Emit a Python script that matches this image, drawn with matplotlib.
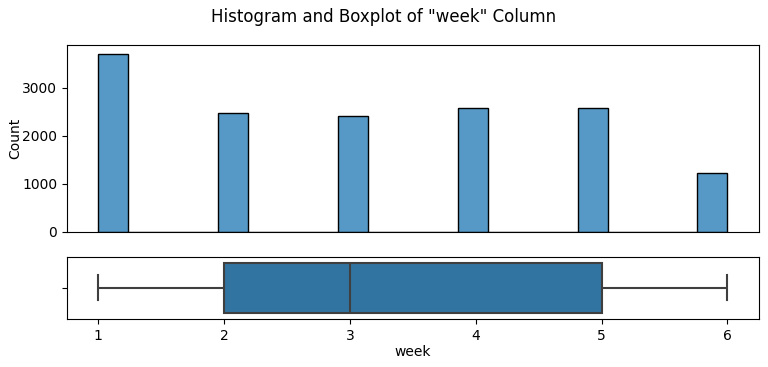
import numpy as np
import matplotlib
matplotlib.use("Agg")
import matplotlib.pyplot as plt
import seaborn as sns

# counts per week
weeks = [1, 2, 3, 4, 5, 6]
counts = [3700, 2480, 2405, 2572, 2572, 1220]

week = np.repeat(weeks, counts)

fig, (ax_hist, ax_box) = plt.subplots(
    2, 1, sharex=True, figsize=(7.68, 3.67), dpi=100,
    gridspec_kw={"height_ratios": [3, 1]})
fig.subplots_adjust(left=0.087, right=0.988, top=0.877, bottom=0.131, hspace=0.2)

sns.histplot(x=week, bins=21, binrange=(1, 6), ax=ax_hist)
ax_hist.set_ylabel("Count", labelpad=0)
ax_hist.set_xlabel("")
ax_hist.set_yticks([0, 1000, 2000, 3000])
ax_hist.tick_params(axis="x", length=0)

sns.boxplot(x=week, ax=ax_box, linecolor="#3f3f3f", linewidth=1.5)
ax_box.set_xlabel("week", labelpad=2)
ax_box.set_xticks(weeks)

fig.suptitle('Histogram and Boxplot of "week" Column', y=0.978)
fig.savefig("out.png", dpi=100)
